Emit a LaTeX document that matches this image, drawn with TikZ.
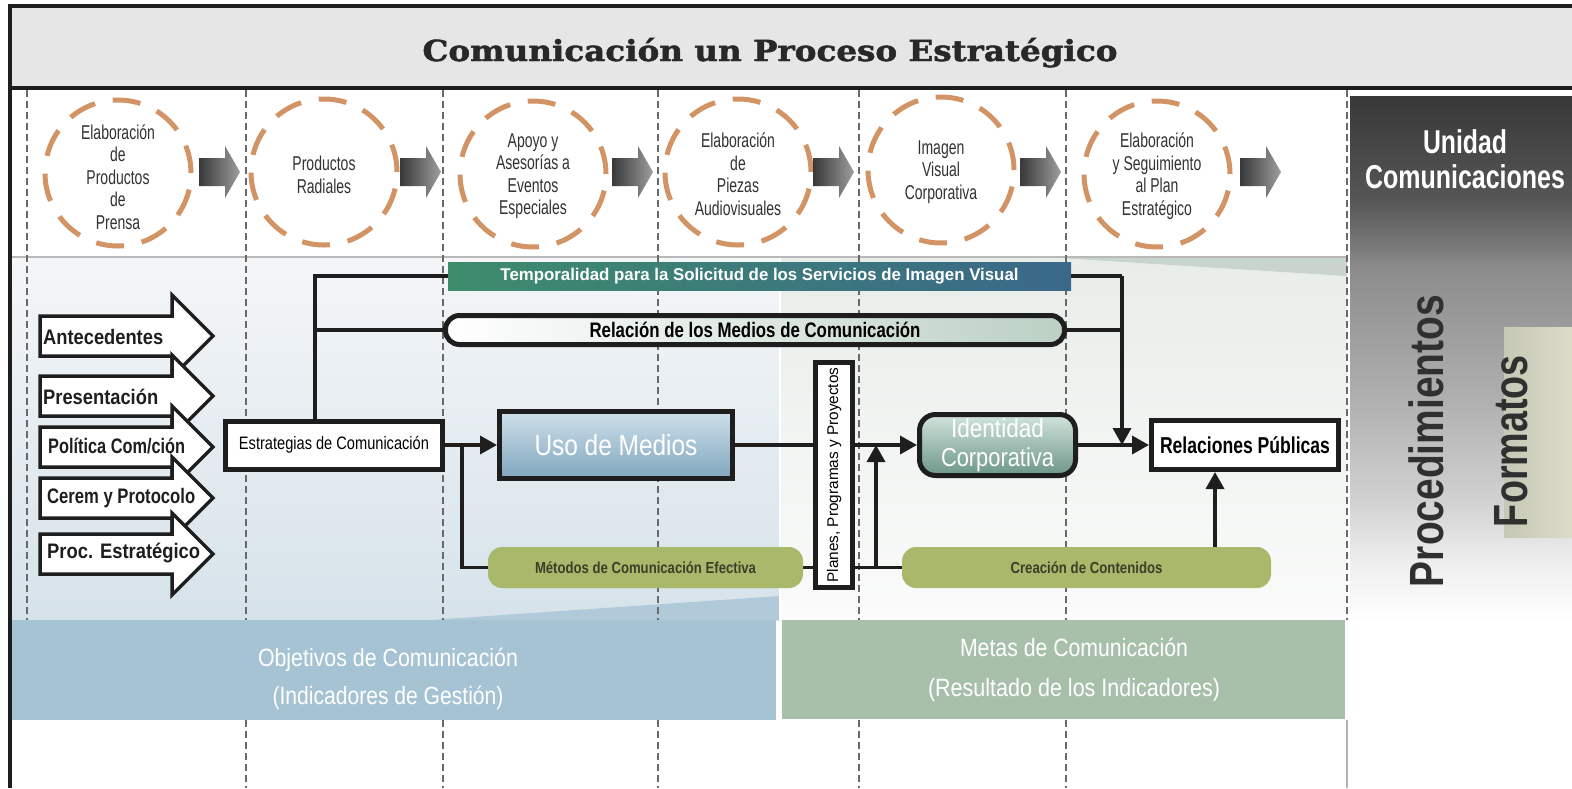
\documentclass[tikz,border=0pt]{standalone}
\usepackage{fontspec}
\usepackage{graphicx}
\usetikzlibrary{shapes.geometric,arrows.meta}
\setmainfont{Liberation Sans}
\newfontfamily\arialn[FakeStretch=0.8]{Liberation Sans}
\newfontfamily\arialc[FakeStretch=0.7]{Liberation Sans}
\newfontfamily\arialf{Liberation Sans}
\newfontfamily\slabf[BoldFeatures={FakeBold=1.6}]{DejaVu Serif}
\newcommand\fitw[2]{\resizebox{#1pt}{\height}{#2}}
\pgfdeclarelayer{bg}\pgfdeclarelayer{mid}\pgfsetlayers{bg,mid,main}
\definecolor{titlebg}{RGB}{230,230,230}
\definecolor{titlec}{RGB}{40,40,40}
\definecolor{ink}{RGB}{30,30,30}
\definecolor{dashc}{RGB}{105,105,105}
\definecolor{orng}{RGB}{210,148,100}
\definecolor{olive}{RGB}{170,184,108}
\definecolor{olivetext}{RGB}{60,62,40}
\definecolor{objc}{RGB}{166,195,212}
\definecolor{metc}{RGB}{168,192,170}
\definecolor{lbtop}{RGB}{244,246,248}
\definecolor{lbbot}{RGB}{214,226,234}
\definecolor{rgtop}{RGB}{232,237,233}
\definecolor{rgbot}{RGB}{250,251,250}
\definecolor{wedgeblue}{RGB}{176,202,218}
\definecolor{wedgegreen}{RGB}{200,212,204}
\definecolor{usoT}{RGB}{206,224,234}
\definecolor{usoB}{RGB}{128,166,190}
\definecolor{idT}{RGB}{210,228,220}
\definecolor{idB}{RGB}{108,150,136}
\definecolor{tgL}{RGB}{62,140,108}
\definecolor{tgR}{RGB}{58,104,138}
\definecolor{relR}{RGB}{188,208,196}
\definecolor{fmtA}{RGB}{198,200,182}
\definecolor{fmtB}{RGB}{218,220,200}
\definecolor{procc}{RGB}{48,48,48}
\definecolor{ctxt}{RGB}{50,50,50}
\pgfdeclareverticalshading{rpanel}{100bp}{color(0bp)=(white); color(25bp)=(white); color(37bp)=(white); color(41.5bp)=(black!7); color(45.8bp)=(black!18); color(53bp)=(black!31); color(62.4bp)=(black!45); color(67.4bp)=(black!66); color(75bp)=(black!78); color(100bp)=(black!78)}
\newcommand\garr[1]{\shade[left color=black!78,right color=black!38] (#1,158) -- ({#1+26},158) -- ({#1+26},146) -- ({#1+41},172) -- ({#1+26},198) -- ({#1+26},186) -- (#1,186) -- cycle;}
\newcommand\warr[1]{\draw[line width=3.5,draw=ink,fill=white,line join=miter] (40,{#1-20}) -- (172,{#1-20}) -- (172,{#1-41}) -- (213,#1) -- (172,{#1+41}) -- (172,{#1+20}) -- (40,{#1+20}) -- cycle;}
\tikzset{
 box/.style={draw=ink, line width=5, inner sep=0},
 conn/.style={draw=ink, line width=3.5, line join=miter},
 arr/.style={conn, -{Triangle[length=17pt,width=18pt]}},
 circ/.style={ellipse, draw=orng, line width=5, dash pattern=on 28pt off 18pt, minimum width=146, minimum height=146, inner sep=0},
 ctext/.style={align=center, inner sep=0, text=ctxt, font=\arialc\fontsize{20}{22.5}\selectfont},
 dsh/.style={draw=dashc, line width=2, dash pattern=on 7pt off 4pt},
 olivebox/.style={fill=olive, rounded corners=14, inner sep=0, text=olivetext, font=\arialf\bfseries\fontsize{16}{18}\selectfont},
 lbl/.style={inner sep=0, anchor=west, text=ink, font=\arialf\bfseries\fontsize{21}{24}\selectfont},
}
\begin{document}
\begin{tikzpicture}[x=1pt,y=-1pt]
\useasboundingbox (0,0) rectangle (1572,788);
\begin{pgfonlayer}{bg}
\fill[white] (0,0) rectangle (1572,788);
\fill[titlebg] (10,6) rectangle (1572,88);
\shade[top color=lbtop,bottom color=lbbot] (10,258) rectangle (780,620);
\shade[top color=rgtop,bottom color=rgbot] (780,258) rectangle (1347,620);
\fill[wedgeblue] (430,620) -- (780,596) -- (780,620) -- cycle;
\fill[wedgegreen] (1060,258) -- (1347,258) -- (1347,276) -- cycle;
\draw[gray!55,line width=2] (10,257) -- (1347,257);
\draw[white,line width=2] (780,258) -- (780,620);
\shade[shading=rpanel] (1350,96) rectangle (1572,788);
\shade[left color=fmtA, right color=fmtB] (1504,327) rectangle (1572,537);
\foreach \x in {27,246,443,658,859,1066,1347} \draw[dsh] (\x,90) -- (\x,620);
\foreach \x in {246,443,658,859,1066} \draw[dsh] (\x,720) -- (\x,788);
\draw[gray!60,line width=1.5] (1347,720) -- (1347,788);
\node[fill=objc, minimum width=766, minimum height=100, inner sep=0] (objband) at (393,670) {};
\node[fill=metc, minimum width=563, minimum height=99, inner sep=0] (metband) at (1063.5,669.5) {};
\end{pgfonlayer}

% title
\node[anchor=base, inner sep=0, text=titlec, font=\slabf\bfseries\fontsize{29}{31}\selectfont] (title) at (770,61) {\fitw{695}{Comunicación un Proceso Estratégico}};

% top row
\node[circ] (c1) at (118,173) {};
\node[ctext] (t1) at (118,177) {Elaboración\\de\\Productos\\de\\Prensa};
\node[circ] (c2) at (324,172) {};
\node[ctext] (t2) at (324,175) {Productos\\Radiales};
\node[circ] (c3) at (533,174) {};
\node[ctext] (t3) at (533,176) {Apoyo y\\Asesorías a\\Eventos\\Especiales};
\node[circ] (c4) at (738,172) {};
\node[ctext] (t4) at (738,174) {Elaboración\\de\\Piezas\\Audiovisuales};
\node[circ] (c5) at (941,170) {};
\node[ctext] (t5) at (941,172) {Imagen\\Visual\\Corporativa};
\node[circ] (c6) at (1157,174) {};
\node[ctext] (t6) at (1157,176) {Elaboración\\y Seguimiento\\al Plan\\Estratégico};
\garr{199}\garr{400}\garr{612}\garr{813}\garr{1020}\garr{1240}

% left arrows
\warr{336}
\node[lbl] (a1) at (43,337) {\fitw{120}{Antecedentes}};
\warr{396}
\node[lbl] (a2) at (43,397) {\fitw{115}{Presentación}};
\warr{447}
\node[lbl] (a3) at (48,446) {\fitw{137}{Política Com/ción}};
\warr{498}
\node[lbl] (a4) at (47,498) {\fitw{148}{Cerem y Protocolo}};
\warr{554}
\node[lbl] (a5) at (47,553) {\fitw{153}{Proc. Estratégico}};

% bands
\node[inner sep=0, minimum width=623, minimum height=28, left color=tgL, right color=tgR, text=white, font=\arialf\bfseries\fontsize{17}{20}\selectfont] (temp) at (759.5,276) {\fitw{518}{Temporalidad para la Solicitud de los Servicios de Imagen Visual}};
\node[box, rounded corners=14, minimum width=619, minimum height=29, left color=white, right color=relR, font=\arialf\bfseries\fontsize{21}{24}\selectfont] (rel) at (755,330) {\fitw{331}{Relación de los Medios de Comunicación}};

% main boxes
\node[box, fill=white, minimum width=217, minimum height=48, font=\arialf\fontsize{18}{20}\selectfont] (est) at (334,445) {\fitw{190}{Estrategias de Comunicación}};
\node[box, minimum width=233, minimum height=67, top color=usoT, bottom color=usoB, text=white, font=\arialf\fontsize{29}{32}\selectfont] (uso) at (616,445) {\fitw{163}{Uso de Medios}};
\node[box, fill=white, rotate=90, minimum width=225, minimum height=37, font=\arialf\fontsize{15.5}{18}\selectfont] (plan) at (834,475) {\fitw{215}{Planes, Programas y Proyectos}};
\node[box, rounded corners=16, minimum width=156, minimum height=61, top color=idT, bottom color=idB, text=white, align=center, font=\arialf\fontsize{26}{29}\selectfont] (ident) at (997.5,445) {\fitw{93}{Identidad}\\\fitw{113}{Corporativa}};
\node[box, fill=white, minimum width=187, minimum height=49, font=\arialf\bfseries\fontsize{23}{26}\selectfont] (relp) at (1245,445) {\fitw{170}{Relaciones Públicas}};
\node[olivebox, minimum width=315, minimum height=41] (met) at (645.5,567.5) {\fitw{221}{Métodos de Comunicación Efectiva}};
\node[olivebox, minimum width=369, minimum height=41] (crea) at (1086.5,567.5) {\fitw{152}{Creación de Contenidos}};

% connectors
\begin{pgfonlayer}{mid}
\coordinate (j1) at (315,276);
\coordinate (j2) at (462,445);
\coordinate (j3) at (876,567.5);
\coordinate (j4) at (1122,276);
\coordinate (j5) at (1215,547);
\draw[conn] (est.north -| j1) -- (j1) -- (temp.west);
\draw[conn] (j1 |- rel.west) -- (rel.west);
\draw[arr] (est.east) -- (uso.west);
\draw[conn] (j2) |- (met.west);
\draw[arr] (uso.east) -- (ident.west);
\draw[conn] (met.east) -- (met.east -| plan.north);
\draw[conn] (plan.south |- crea.west) -- (crea.west);
\draw[arr] (j3) -- (j3 |- uso.east);
\draw[conn] (temp.east) -- (j4);
\draw[arr] (j4) -- (j4 |- relp.west);
\draw[conn] (rel.east) -- (rel.east -| j4);
\draw[arr] (ident.east) -- (relp.west);
\draw[arr] (j5 |- crea.north) -- (relp.south -| j5);
\end{pgfonlayer}

% bottom texts
\node[text=white, align=center, inner sep=0, font=\arialf\fontsize{25}{38}\selectfont] (objt) at (388,679) {\fitw{260}{Objetivos de Comunicación}\\\fitw{231}{(Indicadores de Gestión)}};
\node[text=white, align=center, inner sep=0, font=\arialf\fontsize{25}{40}\selectfont] (mett) at (1074,670) {\fitw{228}{Metas de Comunicación}\\\fitw{292}{(Resultado de los Indicadores)}};

% right panel
\node[text=white, align=center, inner sep=0, font=\arialf\bfseries\fontsize{33}{35}\selectfont] (unid) at (1465,159) {\fitw{84}{Unidad}\\\fitw{200}{Comunicaciones}};
\node[rotate=90, inner sep=0, text=procc, font=\arialn\bfseries\fontsize{48}{50}\selectfont] (proc) at (1426,441) {\fitw{292}{Procedimientos}};
\node[rotate=90, inner sep=0, text=procc, font=\arialn\bfseries\fontsize{48}{50}\selectfont] (form) at (1511,441) {\fitw{172}{Formatos}};

% frame
\draw[ink,line width=4] (10,6) -- (1572,6);
\draw[ink,line width=4] (10,88) -- (1572,88);
\draw[ink,line width=3.5] (10,4) -- (10,788);
\end{tikzpicture}
\end{document}
